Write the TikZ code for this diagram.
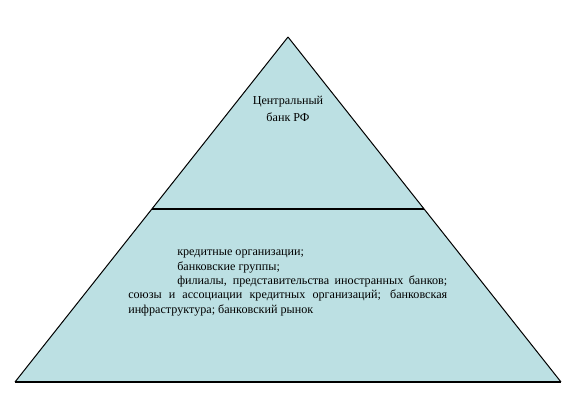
\documentclass[tikz,border=0pt]{standalone}
\usepackage{fontspec}
\setmainfont{Liberation Serif}
\usepackage{xcolor}
\usepackage{tikz}
\usetikzlibrary{calc}
\usetikzlibrary{positioning}

\definecolor{pyrfill}{RGB}{188,224,227}

\begin{document}
\begin{tikzpicture}[x=0.75pt, y=-0.75pt,
  edge/.style={draw=black, line width=0.75pt},
  label/.style={rectangle, draw=none, inner sep=0pt, font=\rmfamily\fontsize{9.1}{10.7}\selectfont}]
\useasboundingbox (0,0) rectangle (576,420);
\coordinate (top) at (288, 37);
\coordinate (left) at (15, 382);
\coordinate (right) at (561, 382);
\coordinate (cutL) at ($(left)!0.5014!(top)$);
\coordinate (cutR) at ($(right)!0.5014!(top)$);
\fill [pyrfill] (top) -- (left) -- (right) -- cycle;
\draw [edge] (top) to (left);
\draw [edge] (top) to (right);
\draw [edge, line width=1pt] (left) to (right);
\draw [edge, line width=1pt] (cutL) to (cutR);
\node [label, align=center, font=\rmfamily\fontsize{9.1}{12.75}\selectfont] (CB) at (288, 109) {Центральный\\банк РФ};
\node [label, anchor=north west, text width=239.25pt, align=justify] (Banks) at (128, 250)
  {\hspace*{36.75pt}кредитные организации;\par
   \hspace*{36.75pt}банковские группы;\par
   \hspace*{36.75pt}филиалы, представительства иностранных банков;\linebreak
   союзы и ассоциации кредитных организаций; банковская\linebreak
   инфраструктура; банковский рынок};
\end{tikzpicture}
\end{document}
